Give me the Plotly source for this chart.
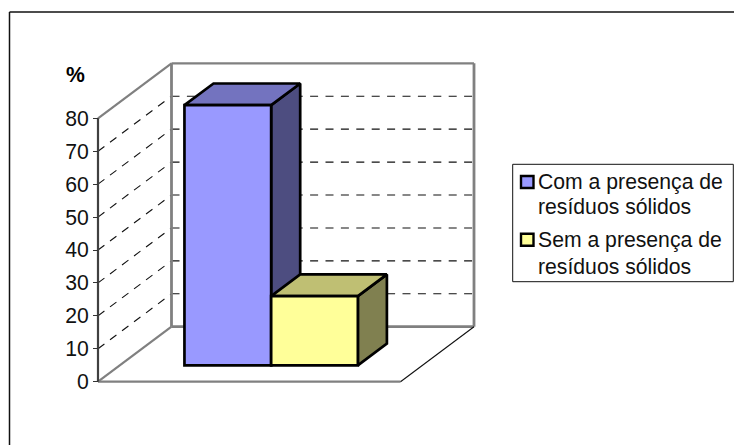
import plotly.graph_objects as go

# ---- data ----
series_names = ["Com a presença de resíduos sólidos", "Sem a presença de resíduos sólidos"]
series_values = [79, 21]
y_ticks = [0, 10, 20, 30, 40, 50, 60, 70, 80]
legend_lines = [["Com a presença de", "resíduos sólidos"], ["Sem a presença de", "resíduos sólidos"]]
y_title = "%"
front_colors = ["#9999FF", "#FFFF99"]
side_colors = ["#4D4D80", "#808050"]
top_colors = ["#7373BF", "#BFBF73"]

# ---- geometry: pixel frame of the plot and the pseudo 3D projection ----
W, H = 734, 445
PL, PR, PT, PB = 88, 480, 55, 390          # plot area (px)
X0, X1, Y0 = 98, 400.5, 381.7              # front floor edge (px)
PX_PER_UNIT = 263.4 / 80                   # px per value unit
X_SCALE = X1 - X0
WALL_DX = 73.5 / X_SCALE                   # depth offset of back wall, x units
WALL_DY = 55 / PX_PER_UNIT                 # depth offset of back wall, value units
BAR_W = 86.7 / X_SCALE
GROUP_C = 0.5
D_FRONT, D_BACK = 0.298, 0.693             # bar depth span as a fraction of the wall depth
x_range = [(PL - X0) / X_SCALE, (PR - X0) / X_SCALE]
y_range = [(Y0 - PB) / PX_PER_UNIT, (Y0 - PT) / PX_PER_UNIT]
FONT = "Liberation Sans"
FS = 21.2


def px(x):
    return (x - PL) / (PR - PL)


def py(y):
    return (PB - y) / (PB - PT)


GRAY = "#808080"
shapes = []
annotations = []


def seg(x0, y0, x1, y1, color=GRAY, width=2.0, dash=None, layer="below"):
    shapes.append(dict(type="line", xref="x", yref="y", x0=x0, y0=y0, x1=x1, y1=y1, layer=layer,
                       line=dict(color=color, width=width, dash=dash)))


top_v = y_ticks[-1]
# gridlines on the side wall and the back wall
for v in y_ticks[1:-1]:
    seg(0, v, WALL_DX, v + WALL_DY, color="#111111", width=1.1, dash="8px,7px")
    seg(WALL_DX, v + WALL_DY, 1 + WALL_DX, v + WALL_DY, color="#111111", width=1.1, dash="8px,7.4px")
# wall and floor edges
seg(0, top_v, WALL_DX, top_v + WALL_DY, width=2.2)
seg(WALL_DX, top_v + WALL_DY, 1 + WALL_DX, top_v + WALL_DY, width=2.2)
seg(WALL_DX, WALL_DY, WALL_DX, top_v + WALL_DY, width=2.8)
seg(1 + WALL_DX, WALL_DY, 1 + WALL_DX, top_v + WALL_DY, width=2.8)
seg(WALL_DX, WALL_DY, 1 + WALL_DX, WALL_DY, width=2.8)
seg(0, 0, WALL_DX, WALL_DY, width=2.2)
seg(0, 0, 1, 0, width=2.2)
seg(1, 0, 1 + WALL_DX, WALL_DY, color="#111111", width=1.1)
seg(0, 0, 0, top_v, color="#404040", width=2.2)

fig = go.Figure()
n = len(series_values)
z = 1
for i, (name, val) in enumerate(zip(series_names, series_values)):
    left = GROUP_C - n * BAR_W / 2 + i * BAR_W + D_FRONT * WALL_DX
    right = left + BAR_W
    base = D_FRONT * WALL_DY
    bdx = (D_BACK - D_FRONT) * WALL_DX
    bdy = (D_BACK - D_FRONT) * WALL_DY
    top = base + val
    edge = dict(color="black", width=2.7)
    fig.add_trace(go.Scatter(x=[right, right + bdx, right + bdx, right, right],
                             y=[base, base + bdy, top + bdy, top, base],
                             mode="lines", fill="toself", fillcolor=side_colors[i], line=edge,
                             hoverinfo="skip", showlegend=False, zorder=z))
    fig.add_trace(go.Scatter(x=[left, left + bdx, right + bdx, right, left],
                             y=[top, top + bdy, top + bdy, top, top],
                             mode="lines", fill="toself", fillcolor=top_colors[i], line=edge,
                             hoverinfo="skip", showlegend=False, zorder=z))
    fig.add_trace(go.Bar(x=[(left + right) / 2], y=[val], base=[base], width=[BAR_W], name=name,
                         marker=dict(color=front_colors[i], line=dict(color="black", width=2.7)),
                         showlegend=False, zorder=z + 1))
    z += 2

# outer chart frame
for (a, b, c, d) in [(9.5, 12, 9.5, H + 5), (9.5, 12, W + 5, 12)]:
    shapes.append(dict(type="line", xref="paper", yref="paper", x0=px(a), y0=py(b), x1=px(c), y1=py(d),
                       line=dict(color="#111111", width=1.5), layer="above"))

# legend box
shapes.append(dict(type="rect", xref="paper", yref="paper", x0=px(512.7), y0=py(164.3), x1=px(733.3), y1=py(281.7),
                   line=dict(color="#111111", width=1), fillcolor="white", layer="above"))
swatch_y = [175, 232.7]
line_y = [[182, 206.5], [240, 266]]
for i in range(n):
    shapes.append(dict(type="rect", xref="paper", yref="paper", x0=px(521), y0=py(swatch_y[i] + 1),
                       x1=px(533.5), y1=py(swatch_y[i] + 13),
                       line=dict(color="black", width=2.4), fillcolor=front_colors[i], layer="above"))
    for txt, ly in zip(legend_lines[i], line_y[i]):
        annotations.append(dict(xref="paper", yref="paper", x=px(536.3), y=py(ly), text=txt, showarrow=False,
                                xanchor="left", yanchor="middle",
                                font=dict(family=FONT, size=FS, color="#111111")))

# y title
annotations.append(dict(xref="paper", yref="paper", x=px(75), y=py(74), text=f"<b>{y_title}</b>", showarrow=False,
                        xanchor="center", yanchor="middle",
                        font=dict(family=FONT, size=FS, color="black")))

fig.update_layout(
    width=W, height=H, autosize=False,
    margin=dict(l=PL, r=W - PR, t=PT, b=H - PB, pad=0),
    paper_bgcolor="white", plot_bgcolor="white",
    barmode="overlay", showlegend=False,
    shapes=shapes, annotations=annotations,
    font=dict(family=FONT, size=FS, color="#111111"),
    xaxis=dict(range=x_range, visible=False, fixedrange=True),
    yaxis=dict(range=y_range, anchor="free", position=px(X0), tickvals=y_ticks, ticktext=[str(t) for t in y_ticks],
               ticks="outside", ticklen=5, tickwidth=1.2, tickcolor="#333333",
               showgrid=False, zeroline=False, showline=False, fixedrange=True,
               tickfont=dict(family=FONT, size=FS, color="#111111")),
)

fig.write_html("out.html", config={"displayModeBar": False},
               post_script="document.body.style.margin='0';")
